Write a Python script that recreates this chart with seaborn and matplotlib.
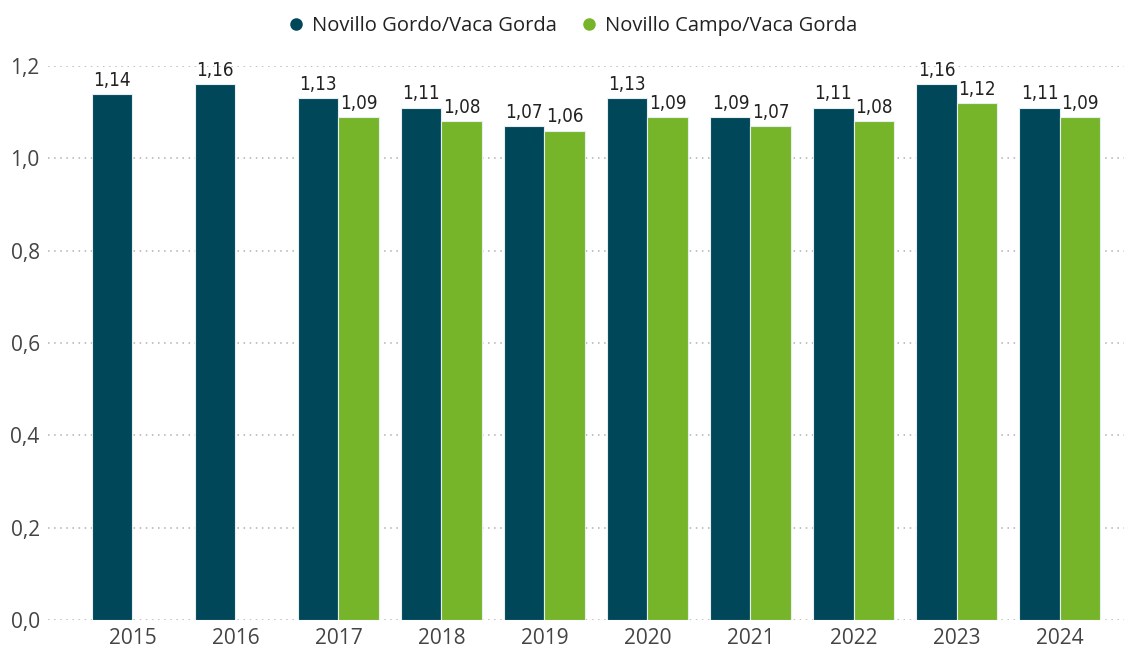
import numpy as np
import pandas as pd
import matplotlib
matplotlib.use("Agg")
import matplotlib.pyplot as plt
import seaborn as sns
from matplotlib.lines import Line2D

years = ["2015", "2016", "2017", "2018", "2019", "2020", "2021", "2022", "2023", "2024"]
gordo = [1.14, 1.16, 1.13, 1.11, 1.07, 1.13, 1.09, 1.11, 1.16, 1.11]
campo = [np.nan, np.nan, 1.09, 1.08, 1.06, 1.09, 1.07, 1.08, 1.12, 1.09]
series = ["Novillo Gordo/Vaca Gorda", "Novillo Campo/Vaca Gorda"]
colors = ["#00475A", "#76B52A"]
yticks = [0.0, 0.2, 0.4, 0.6, 0.8, 1.0, 1.2]

df = pd.DataFrame({
    "year": years * 2,
    "value": gordo + campo,
    "serie": [series[0]] * len(years) + [series[1]] * len(years),
})

sns.set_theme(style="white")
plt.rcParams["font.family"] = ["Open Sans", "DejaVu Sans"]

fig = plt.figure(figsize=(11.26, 6.48), dpi=100)
ax = fig.add_axes([0.0426, 0.0432, 0.956, 0.855])

sns.barplot(data=df, x="year", y="value", hue="serie", order=years,
            hue_order=series, palette=colors, saturation=1, width=0.78, dodge=True,
            edgecolor="#e6eef0", linewidth=0.8, ax=ax, legend=False)

ax.set_ylim(0, 1.2)
ax.set_xlim(-0.82, 9.63)
ax.set_yticks(yticks)
ax.set_yticklabels([f"{t:.1f}".replace(".", ",") for t in yticks],
                   fontsize=15, color="#444444")
ax.tick_params(axis="x", labelsize=15, labelcolor="#444444", length=0, pad=6)
ax.tick_params(axis="y", length=0, pad=6)
ax.set_xlabel("")
ax.set_ylabel("")
for s in ax.spines.values():
    s.set_visible(False)
ax.yaxis.grid(True, linestyle=(0, (1, 3)), color="#b0b0b0", linewidth=1.1)
ax.set_axisbelow(True)

for c in ax.containers:
    labels = ["" if np.isnan(v) else f"{v:.2f}".replace(".", ",") for v in c.datavalues]
    ax.bar_label(c, labels=labels, padding=3, fontsize=13.5, color="#222222",
                 family="DejaVu Sans", fontstretch="condensed")

handles = [Line2D([0], [0], marker="o", linestyle="", markersize=8,
                  markerfacecolor=col, markeredgecolor=col) for col in colors]
fig.legend(handles, series, loc="center", bbox_to_anchor=(0.503, 0.96), ncol=2,
           frameon=False, fontsize=14.5, handletextpad=-0.2, columnspacing=0.6,
           labelcolor="#222222")

fig.savefig("out.png", dpi=100)
